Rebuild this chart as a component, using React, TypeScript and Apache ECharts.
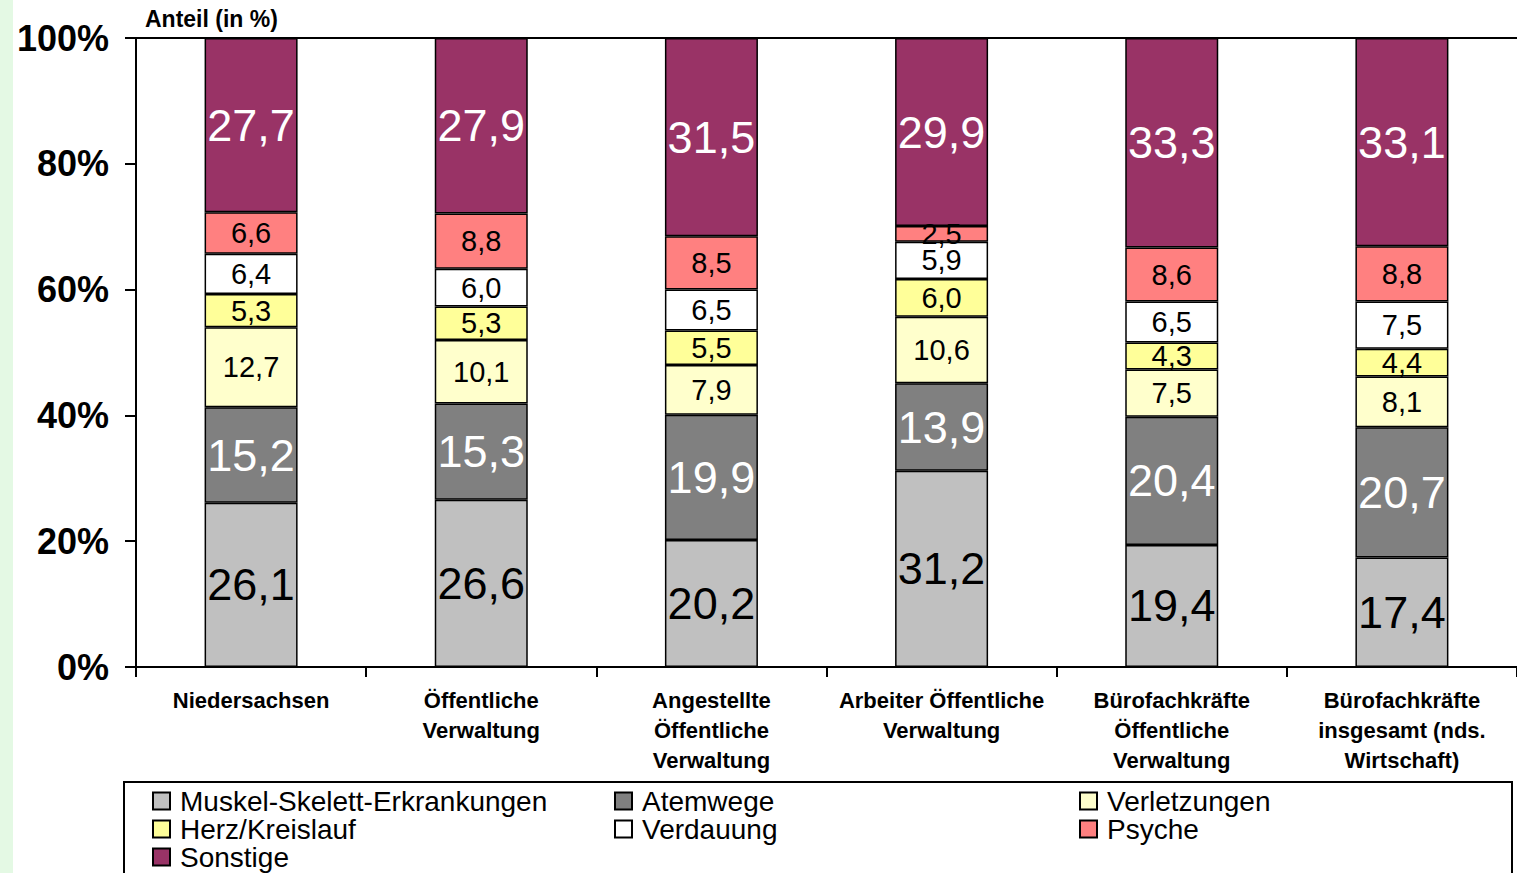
import React, { useEffect, useRef } from "react";
import * as echarts from "echarts";

const categories = [
  "Niedersachsen",
  "Öffentliche\nVerwaltung",
  "Angestellte\nÖffentliche\nVerwaltung",
  "Arbeiter Öffentliche\nVerwaltung",
  "Bürofachkräfte\nÖffentliche\nVerwaltung",
  "Bürofachkräfte\ninsgesamt (nds.\nWirtschaft)",
];

const muskel = [26.1, 26.6, 20.2, 31.2, 19.4, 17.4];
const atemwege = [15.2, 15.3, 19.9, 13.9, 20.4, 20.7];
const verletzungen = [12.7, 10.1, 7.9, 10.6, 7.5, 8.1];
const herz = [5.3, 5.3, 5.5, 6.0, 4.3, 4.4];
const verdauung = [6.4, 6.0, 6.5, 5.9, 6.5, 7.5];
const psyche = [6.6, 8.8, 8.5, 2.5, 8.6, 8.8];
const sonstige = [27.7, 27.9, 31.5, 29.9, 33.3, 33.1];

const seriesDefs = [
  { name: "Muskel-Skelett-Erkrankungen", data: muskel, color: "#C0C0C0", labelColor: "#000", big: true },
  { name: "Atemwege", data: atemwege, color: "#808080", labelColor: "#fff", big: true },
  { name: "Verletzungen", data: verletzungen, color: "#FFFFCC", labelColor: "#000", big: false },
  { name: "Herz/Kreislauf", data: herz, color: "#FFFF99", labelColor: "#000", big: false },
  { name: "Verdauung", data: verdauung, color: "#FFFFFF", labelColor: "#000", big: false },
  { name: "Psyche", data: psyche, color: "#FF8080", labelColor: "#000", big: false },
  { name: "Sonstige", data: sonstige, color: "#993366", labelColor: "#fff", big: true },
];

const FONT = "Liberation Sans, Arial, sans-serif";

export default function App() {
  const ref = useRef<HTMLDivElement>(null);
  useEffect(() => {
    if (!ref.current) return;
    const chart = echarts.init(ref.current, null, { renderer: "svg" });
    const legendCommon = {
      orient: "vertical",
      top: 787,
      height: 200,
      padding: 0,
      itemGap: 0,
      itemWidth: 17,
      itemHeight: 17,
      itemTextGap: 6,
      icon: "rect",
      textStyle: {
        fontFamily: FONT,
        fontSize: 28,
        color: "#000",
        lineHeight: 27,
        padding: [0, 0, 0, 5],
      },
      selectedMode: false,
    };
    chart.setOption({
      animation: false,
      backgroundColor: "#fff",
      textStyle: { fontFamily: FONT },
      graphic: [
        { type: "rect", left: 0, top: 0, shape: { width: 13, height: 873 }, style: { fill: "#E4F9E4" } },
        {
          type: "rect",
          shape: { x: 124, y: 782, width: 1388, height: 110 },
          style: { fill: "none", stroke: "#000", lineWidth: 2 },
        },
        {
          type: "text",
          left: 145,
          top: 7,
          style: { text: "Anteil (in %)", fontFamily: FONT, fontSize: 23, fontWeight: "bold", fill: "#000" },
        },
      ],
      legend: [
        { ...legendCommon, left: 152, data: [seriesDefs[0].name, seriesDefs[3].name, seriesDefs[6].name] },
        { ...legendCommon, left: 614, data: [seriesDefs[1].name, seriesDefs[4].name] },
        { ...legendCommon, left: 1079, data: [seriesDefs[2].name, seriesDefs[5].name] },
      ],
      grid: { left: 136, top: 38, width: 1386, height: 629 },
      xAxis: {
        type: "category",
        data: categories,
        axisLine: { lineStyle: { color: "#000", width: 2 } },
        axisTick: { show: true, length: 10, lineStyle: { color: "#000", width: 2 } },
        axisLabel: {
          fontFamily: FONT,
          fontSize: 22,
          fontWeight: "bold",
          color: "#000",
          lineHeight: 30,
          margin: 18,
          interval: 0,
        },
      },
      yAxis: {
        type: "value",
        min: 0,
        max: 100,
        interval: 20,
        axisLine: { show: true, lineStyle: { color: "#000", width: 2 } },
        axisTick: { show: true, length: 11, lineStyle: { color: "#000", width: 2 } },
        splitLine: {
          show: true,
          lineStyle: { color: ["none", "none", "none", "none", "none", "#000"], width: 2 },
        },
        axisLabel: {
          formatter: "{value}%",
          fontFamily: FONT,
          fontSize: 36,
          fontWeight: "bold",
          color: "#000",
          margin: 27,
        },
      },
      series: seriesDefs.map((s) => ({
        name: s.name,
        type: "bar",
        stack: "total",
        barWidth: 93,
        data: s.data,
        itemStyle: { color: s.color, borderColor: "#000", borderWidth: 1.5 },
        label: {
          show: true,
          position: "inside",
          color: s.labelColor,
          fontFamily: FONT,
          fontSize: s.big ? 45 : 29,
          formatter: (p: any) => Number(p.value).toFixed(1).replace(".", ","),
        },
      })),
    });
    return () => chart.dispose();
  }, []);
  return (
    <div
      ref={ref}
      style={{ position: "absolute", left: 0, top: 0, width: 1517, height: 873 }}
    />
  );
}
